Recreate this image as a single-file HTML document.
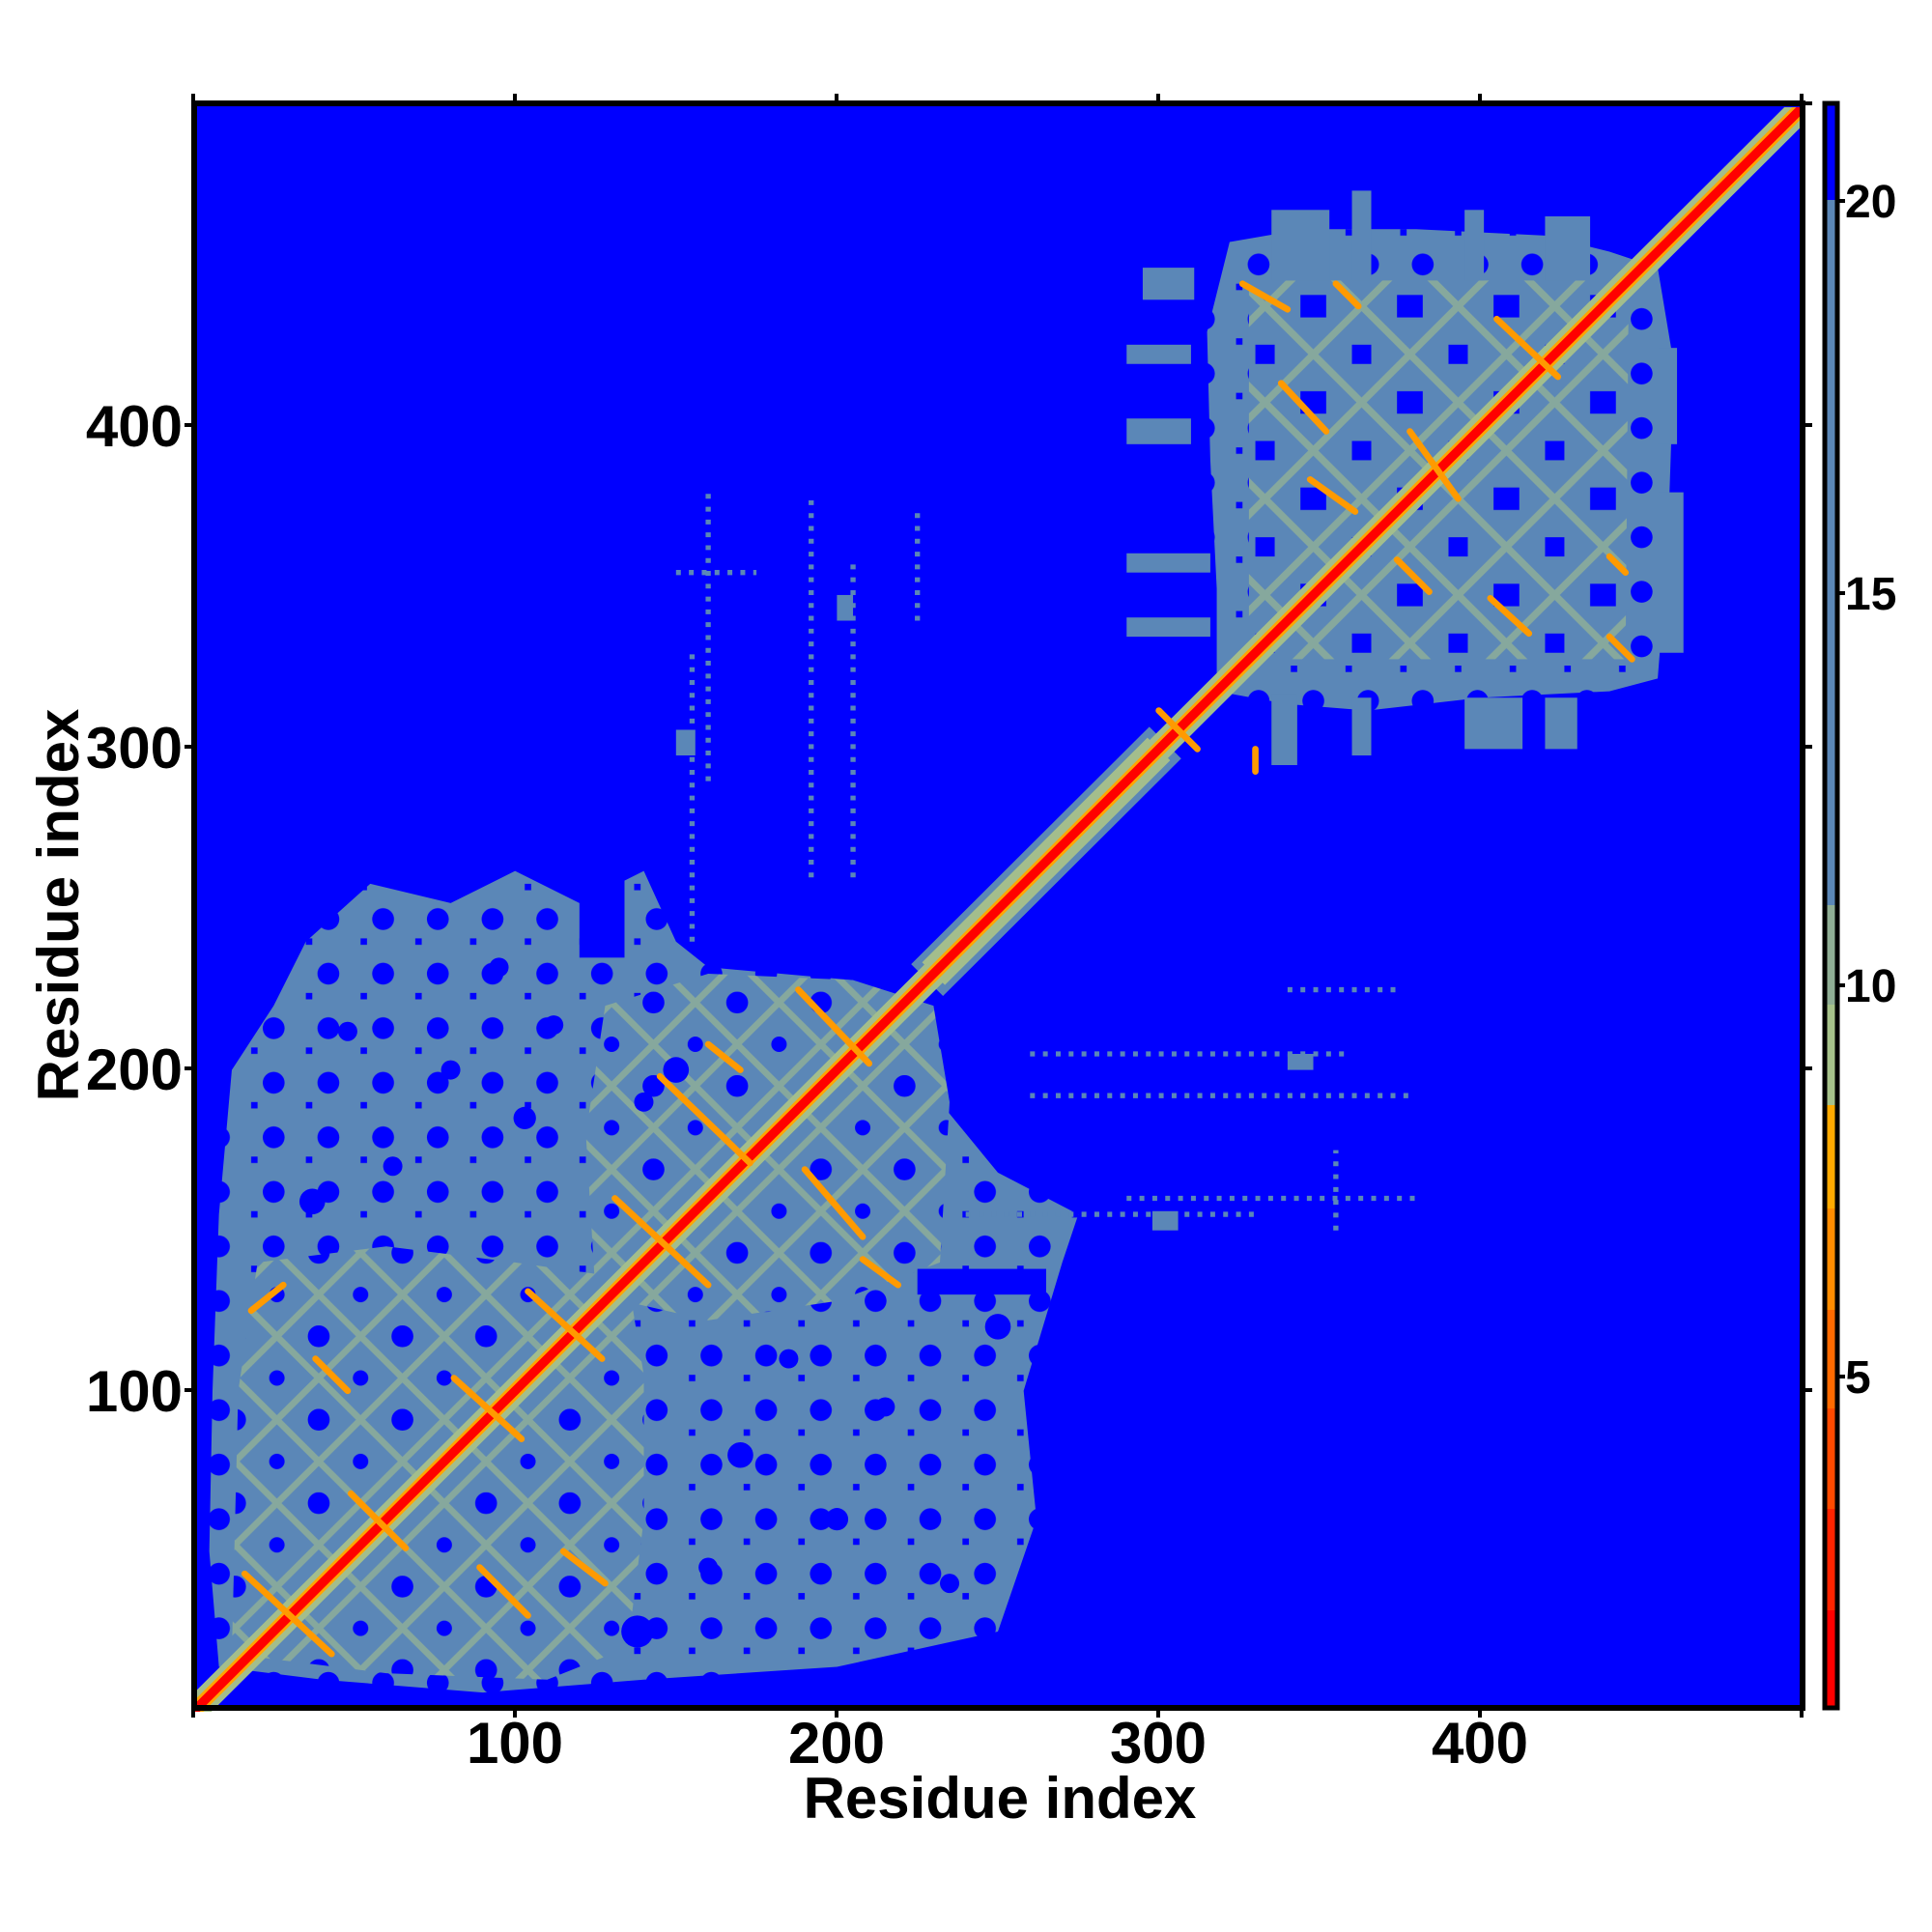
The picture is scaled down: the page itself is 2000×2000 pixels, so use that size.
<!DOCTYPE html>
<html><head><meta charset="utf-8"><style>
html,body{margin:0;padding:0;background:#fff}
svg{display:block}
text{font-family:"Liberation Sans",Arial,sans-serif;font-weight:bold;fill:#000}
</style></head><body>
<svg width="2000" height="2000" viewBox="0 0 2000 2000" xmlns="http://www.w3.org/2000/svg">
<defs>
<clipPath id="pc"><rect x="0" y="0" width="500" height="500"/></clipPath>
<pattern id="p1" patternUnits="userSpaceOnUse" width="26" height="26" x="0" y="0">
<rect width="26" height="26" fill="#5b87b7"/>
<path d="M13 0 L26 13 L13 26 L0 13 Z" fill="none" stroke="#a3be8c" stroke-width="2" opacity="0.6"/>
<circle cx="13" cy="13" r="3.4" fill="#0000ff"/>
<circle cx="0" cy="0" r="2.4" fill="#0000ff"/><circle cx="26" cy="0" r="2.4" fill="#0000ff"/>
<circle cx="0" cy="26" r="2.4" fill="#0000ff"/><circle cx="26" cy="26" r="2.4" fill="#0000ff"/>
</pattern>
<pattern id="p2" patternUnits="userSpaceOnUse" width="30" height="30" x="3" y="3">
<rect width="30" height="30" fill="#5b87b7"/>
<path d="M15 0 L30 15 L15 30 L0 15 Z" fill="none" stroke="#a3be8c" stroke-width="2.2" opacity="0.6"/>
<rect x="11" y="11.5" width="8" height="7" fill="#0000ff"/>
<rect x="-3" y="-3" width="6" height="6" fill="#0000ff"/><rect x="27" y="-3" width="6" height="6" fill="#0000ff"/>
<rect x="-3" y="27" width="6" height="6" fill="#0000ff"/><rect x="27" y="27" width="6" height="6" fill="#0000ff"/>
</pattern>
<pattern id="p3" patternUnits="userSpaceOnUse" width="17" height="17">
<rect width="17" height="17" fill="#5b87b7"/>
<circle cx="8" cy="9" r="3.4" fill="#0000ff"/>
<rect x="1" y="1" width="2" height="2" fill="#0000ff"/>
</pattern>
</defs>
<rect x="201" y="107" width="1665" height="1661" fill="#0000ff"/>
<g transform="translate(200,1772) scale(3.332,-3.322)" clip-path="url(#pc)">
<!-- domain 1 outer sparse -->
<polygon fill="url(#p3)" points="8,14 40,10 90,6 140,10 200,14 250,25 262,60 258,100 270,140 275,155 250,168 232,190 225,215 205,228 160,232 150,240 140,262 120,252 100,262 80,252 55,258 35,240 25,220 12,200 8,155 6,100 5,50"/>
<!-- domain 1 dense lattice -->
<polygon fill="url(#p1)" points="12,18 60,12 110,10 135,20 140,60 140,105 135,135 100,140 60,145 20,140 14,100"/>
<polygon fill="url(#p1)" points="125,130 160,122 200,128 232,140 235,190 230,220 205,228 160,230 128,220 122,180"/>
<!-- extra blue holes domain1 -->
<g fill="#0000ff">
<circle cx="37" cy="159" r="4"/><circle cx="62" cy="170" r="3"/><circle cx="103" cy="185" r="3.5"/>
<circle cx="80" cy="200" r="3"/><circle cx="48" cy="212" r="3"/><circle cx="112" cy="214" r="3"/>
<circle cx="95" cy="232" r="3"/><circle cx="150" cy="200" r="4"/><circle cx="140" cy="190" r="3"/>
<circle cx="170" cy="80" r="4"/><circle cx="200" cy="60" r="3.5"/><circle cx="160" cy="45" r="3"/>
<circle cx="215" cy="95" r="3"/><circle cx="185" cy="110" r="3"/><circle cx="235" cy="40" r="3"/>
<circle cx="138" cy="25" r="5"/><circle cx="250" cy="120" r="4"/>
<rect x="225" y="130" width="40" height="8"/>
<rect x="20" y="230" width="10" height="30"/><rect x="120" y="235" width="14" height="25"/>
</g>
<!-- domain 2 -->
<polygon fill="url(#p3)" points="318,318 340,314 365,312 400,316 440,318 455,322 458,360 460,420 455,450 440,455 420,460 380,462 345,462 322,458 315,430 316,390 318,350"/>
<polygon fill="url(#p2)" points="328,328 445,328 446,446 328,446"/>
<g fill="#5b87b7">
<rect x="335" y="446" width="18" height="22"/><rect x="360" y="446" width="6" height="28"/>
<rect x="395" y="446" width="6" height="22"/><rect x="420" y="446" width="14" height="20"/>
<rect x="455" y="330" width="8" height="50"/><rect x="455" y="395" width="6" height="30"/>
<rect x="335" y="295" width="8" height="22"/><rect x="360" y="298" width="6" height="18"/>
<rect x="395" y="300" width="18" height="16"/><rect x="420" y="300" width="10" height="16"/>
<rect x="290" y="335" width="26" height="6"/><rect x="290" y="355" width="26" height="6"/>
<rect x="290" y="395" width="20" height="8"/><rect x="290" y="420" width="20" height="6"/>
<rect x="295" y="440" width="16" height="10"/>
</g>
<!-- scattered dotted streaks -->
<g stroke="#5b87b7" stroke-width="1.6" stroke-dasharray="1.5 2.5" fill="none">
<line x1="155" y1="240" x2="155" y2="330"/><line x1="240" y1="155" x2="330" y2="155"/>
<line x1="192" y1="260" x2="192" y2="380"/><line x1="260" y1="192" x2="380" y2="192"/>
<line x1="225" y1="340" x2="225" y2="375"/><line x1="340" y1="225" x2="375" y2="225"/>
<line x1="150" y1="355" x2="175" y2="355"/><line x1="355" y1="150" x2="355" y2="175"/>
<line x1="260" y1="205" x2="360" y2="205"/><line x1="205" y1="260" x2="205" y2="360"/>
<line x1="290" y1="160" x2="380" y2="160"/><line x1="160" y1="290" x2="160" y2="380"/>
</g>
<g fill="#5b87b7">
<rect x="150" y="298" width="6" height="8"/><rect x="298" y="150" width="8" height="6"/>
<rect x="340" y="200" width="8" height="5"/><rect x="200" y="340" width="5" height="8"/>
</g>
<!-- diagonal -->
<line x1="228" y1="228" x2="302" y2="302" stroke="#5b87b7" stroke-width="14"/>
<line x1="230" y1="230" x2="300" y2="300" stroke="#a3be8c" stroke-width="10"/>
<line x1="-5" y1="-5" x2="505" y2="505" stroke="#a3be8c" stroke-width="8"/>
<line x1="-5" y1="-5" x2="505" y2="505" stroke="#ffa500" stroke-width="4.5"/>
<line x1="-5" y1="-5" x2="505" y2="505" stroke="#ff0000" stroke-width="2.8"/>
<!-- anti-diagonal orange contacts -->
<g stroke="#ff9a00" stroke-width="2" stroke-linecap="round">
<line x1="16" y1="43" x2="43" y2="18"/><line x1="81" y1="104" x2="102" y2="85"/>
<line x1="49" y1="68" x2="66" y2="51"/><line x1="104" y1="131" x2="127" y2="110"/>
<line x1="131" y1="160" x2="160" y2="133"/><line x1="145" y1="198" x2="173" y2="171"/>
<line x1="188" y1="225" x2="210" y2="202"/><line x1="190" y1="169" x2="208" y2="148"/>
<line x1="89" y1="45" x2="104" y2="30"/><line x1="208" y1="141" x2="219" y2="133"/>
<line x1="38" y1="110" x2="48" y2="100"/><line x1="18" y1="125" x2="28" y2="133"/>
<line x1="115" y1="50" x2="128" y2="40"/><line x1="160" y1="208" x2="170" y2="200"/>
<line x1="326" y1="445" x2="340" y2="437"/><line x1="338" y1="414" x2="352" y2="399"/>
<line x1="347" y1="384" x2="361" y2="374"/><line x1="374" y1="359" x2="384" y2="349"/>
<line x1="403" y1="347" x2="415" y2="336"/><line x1="378" y1="399" x2="393" y2="378"/>
<line x1="405" y1="434" x2="424" y2="416"/><line x1="355" y1="445" x2="362" y2="438"/>
<line x1="440" y1="360" x2="445" y2="355"/><line x1="440" y1="335" x2="447" y2="328"/>
<line x1="300" y1="312" x2="312" y2="300"/><line x1="330" y1="300" x2="330" y2="293"/>
</g>
</g>
<!-- frame -->
<rect x="201" y="107" width="1665" height="1661" fill="none" stroke="#000" stroke-width="6"/>
<g stroke="#000" stroke-width="4">
<line x1="200" y1="1768" x2="200" y2="1778"/><line x1="533" y1="1768" x2="533" y2="1778"/><line x1="866" y1="1768" x2="866" y2="1778"/><line x1="1199" y1="1768" x2="1199" y2="1778"/><line x1="1532" y1="1768" x2="1532" y2="1778"/><line x1="1865" y1="1768" x2="1865" y2="1778"/>
<line x1="200" y1="107" x2="200" y2="97"/><line x1="533" y1="107" x2="533" y2="97"/><line x1="866" y1="107" x2="866" y2="97"/><line x1="1199" y1="107" x2="1199" y2="97"/><line x1="1532" y1="107" x2="1532" y2="97"/><line x1="1865" y1="107" x2="1865" y2="97"/>
<line x1="201" y1="440" x2="191" y2="440"/><line x1="201" y1="773" x2="191" y2="773"/><line x1="201" y1="1106" x2="191" y2="1106"/><line x1="201" y1="1439" x2="191" y2="1439"/>
<line x1="1866" y1="440" x2="1876" y2="440"/><line x1="1866" y1="773" x2="1876" y2="773"/><line x1="1866" y1="1106" x2="1876" y2="1106"/><line x1="1866" y1="1439" x2="1876" y2="1439"/><line x1="1866" y1="107" x2="1876" y2="107"/>
</g>
<g font-size="60" text-anchor="middle">
<text x="533" y="1825">100</text><text x="866" y="1825">200</text><text x="1199" y="1825">300</text><text x="1532" y="1825">400</text>
<text x="1035" y="1882">Residue index</text>
</g>
<g font-size="60" text-anchor="end">
<text x="189" y="462">400</text><text x="189" y="795">300</text><text x="189" y="1128">200</text><text x="189" y="1461">100</text>
</g>
<text font-size="60" text-anchor="middle" transform="translate(81,937) rotate(-90)">Residue index</text>
<!-- colorbar -->
<rect x="1889" y="107" width="13" height="100" fill="#0000ff"/>
<rect x="1889" y="207" width="13" height="730" fill="#5b87b7"/>
<rect x="1889" y="937" width="13" height="103" fill="#8fae95"/>
<rect x="1889" y="1040" width="13" height="104" fill="#a6c28a"/>
<rect x="1889" y="1144" width="13" height="107" fill="#ffaa00"/>
<rect x="1889" y="1251" width="13" height="105" fill="#ff8c00"/>
<rect x="1889" y="1356" width="13" height="102" fill="#ff6a00"/>
<rect x="1889" y="1458" width="13" height="104" fill="#ff4a00"/>
<rect x="1889" y="1562" width="13" height="105" fill="#ff2400"/>
<rect x="1889" y="1667" width="13" height="101" fill="#ff0000"/>
<rect x="1889" y="107" width="13" height="1661" fill="none" stroke="#000" stroke-width="5"/>
<g stroke="#000" stroke-width="4">
<line x1="1902" y1="208" x2="1910" y2="208"/><line x1="1902" y1="614" x2="1910" y2="614"/><line x1="1902" y1="1020" x2="1910" y2="1020"/><line x1="1902" y1="1425" x2="1910" y2="1425"/>
</g>
<g font-size="48">
<text x="1910" y="225">20</text><text x="1910" y="631">15</text><text x="1910" y="1037">10</text><text x="1910" y="1442">5</text>
</g>
</svg>
</body></html>
